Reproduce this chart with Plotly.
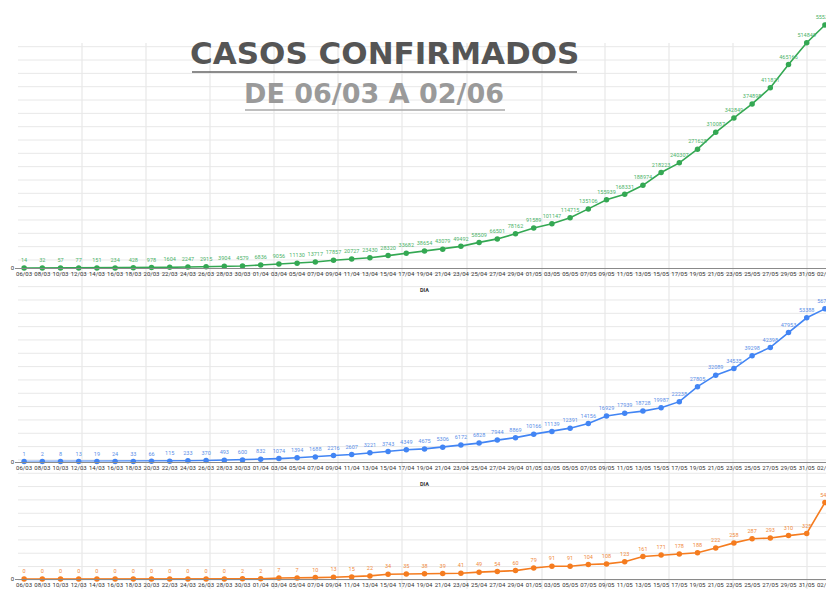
import plotly.graph_objects as go

W, H = 826, 589

dates = ["06/03", "08/03", "10/03", "12/03", "14/03", "16/03", "18/03", "20/03", "22/03",
         "24/03", "26/03", "28/03", "30/03", "01/04", "03/04", "05/04", "07/04", "09/04",
         "11/04", "13/04", "15/04", "17/04", "19/04", "21/04", "23/04", "25/04", "27/04",
         "29/04", "01/05", "03/05", "05/05", "07/05", "09/05", "11/05", "13/05", "15/05",
         "17/05", "19/05", "21/05", "23/05", "25/05", "27/05", "29/05", "31/05", "02/06"]

green_vals = [14, 32, 57, 77, 151, 234, 428, 978, 1604, 2247, 2915, 3904, 4579, 6836, 9056,
              11130, 13717, 17857, 20727, 23430, 28320, 33682, 38654, 43079, 49492, 58509,
              66501, 78162, 91589, 101147, 114715, 135106, 155939, 168331, 188974, 218223,
              240307, 271628, 310087, 342849, 374898, 411821, 465166, 514849, 555383]

blue_vals = [1, 2, 8, 13, 19, 24, 33, 66, 115, 233, 370, 493, 600, 832, 1074, 1394, 1688,
             2216, 2607, 3221, 3743, 4349, 4675, 5306, 6172, 6828, 7944, 8869, 10166, 11139,
             12391, 14156, 16929, 17939, 18728, 19987, 22238, 27805, 32089, 34535, 39298,
             42398, 47953, 53388, 56704]

orange_vals = [0, 0, 0, 0, 0, 0, 0, 0, 0, 0, 0, 0, 2, 2, 7, 7, 10, 13, 15, 22, 34, 35, 38,
               39, 41, 49, 54, 60, 79, 91, 91, 104, 108, 123, 161, 171, 178, 188, 222, 258,
               287, 293, 310, 325, 546]

title_main = "CASOS CONFIRMADOS"
title_sub = "DE 06/03 A 02/06"
axis_label = "DIA"


def px_x(x):
    return x / W


def px_y(y):
    return 1 - y / H


fig = go.Figure()

panels = [
    # (values, line colour, text colour, y range max, top px, zero px)
    (green_vals, "#34a853", "#4cb36a", 580000, 14.2, 268),
    (blue_vals, "#4285f4", "#5b8fe8", 60000, 300, 461.5),
    (orange_vals, "#f57c1f", "#f08a3c", 600, 495, 579),
]

x_dom = [px_x(15), 1.0]

for i, (vals, lc, tc, ymax, top, zero) in enumerate(panels):
    n = "" if i == 0 else str(i + 1)
    fig.add_trace(go.Scatter(
        x=dates, y=vals, mode="lines+markers+text",
        text=[str(v) for v in vals], textposition="top center",
        textfont=dict(family="Roboto", size=5.5, color=tc),
        line=dict(color=lc, width=1.6), marker=dict(color=lc, size=5.5),
        cliponaxis=False, xaxis="x" + n, yaxis="y" + n, showlegend=False,
    ))
    fig.update_layout(**{
        "xaxis" + n: dict(
            domain=x_dom, anchor="y" + n, type="category",
            range=[-0.5, 44.06], tickmode="array", tickvals=dates, ticktext=dates,
            tickangle=0, automargin=False,
            tickfont=dict(family="Roboto", size=6, color="#333"),
            showgrid=False, zeroline=False, showline=True, linecolor="#8a8a8a",
            linewidth=1, ticks="", fixedrange=True,
        ),
        "yaxis" + n: dict(
            domain=[px_y(zero), px_y(top)], anchor="x" + n, range=[0, ymax],
            tickmode="array", tickvals=[0], ticktext=["0"], automargin=False,
            tickfont=dict(family="Roboto", size=6, color="#333"),
            showgrid=False, zeroline=False, showline=False, ticks="",
        ),
    })

shapes = []
# spreadsheet-like background grid
vlines = [82, 146, 210, 274, 338, 402, 467, 542, 605, 669, 733, 807]
for vx in vlines:
    shapes.append(dict(type="line", xref="paper", yref="paper", layer="below",
                       x0=px_x(vx), x1=px_x(vx), y0=px_y(43), y1=0,
                       line=dict(color="#e3e3e3", width=1)))
y = 46.7
while y < H:
    shapes.append(dict(type="line", xref="paper", yref="paper", layer="below",
                       x0=px_x(18), x1=1, y0=px_y(y), y1=px_y(y),
                       line=dict(color="#e8e8e8", width=1)))
    y += 13.33

# title underlines
shapes.append(dict(type="line", xref="paper", yref="paper",
                   x0=px_x(192), x1=px_x(577), y0=px_y(72), y1=px_y(72),
                   line=dict(color="#666666", width=1.5)))
shapes.append(dict(type="line", xref="paper", yref="paper",
                   x0=px_x(245), x1=px_x(505), y0=px_y(110), y1=px_y(110),
                   line=dict(color="#a8a8a8", width=1.5)))

annotations = [
    dict(text="<b>" + title_main + "</b>", xref="paper", yref="paper",
         x=px_x(384), y=px_y(53), xanchor="center", yanchor="middle", showarrow=False,
         font=dict(family="DejaVu Sans", size=31, color="#555555")),
    dict(text="<b>" + title_sub + "</b>", xref="paper", yref="paper",
         x=px_x(374), y=px_y(94), xanchor="center", yanchor="middle", showarrow=False,
         font=dict(family="DejaVu Sans", size=27, color="#9a9a9a")),
    dict(text="<b>" + axis_label + "</b>", xref="paper", yref="paper",
         x=px_x(424), y=px_y(290), xanchor="center", yanchor="middle", showarrow=False,
         font=dict(family="Roboto", size=5.5, color="#333")),
    dict(text="<b>" + axis_label + "</b>", xref="paper", yref="paper",
         x=px_x(424), y=px_y(484), xanchor="center", yanchor="middle", showarrow=False,
         font=dict(family="Roboto", size=5.5, color="#333")),
]

fig.update_layout(
    width=W, height=H, margin=dict(l=0, r=0, t=0, b=0),
    paper_bgcolor="white", plot_bgcolor="rgba(0,0,0,0)",
    shapes=shapes, annotations=annotations,
)

fig.write_html(
    "out.html",
    config={"displayModeBar": False, "staticPlot": True},
    post_script="document.body.style.margin='0px';document.body.style.overflow='hidden';",
)
